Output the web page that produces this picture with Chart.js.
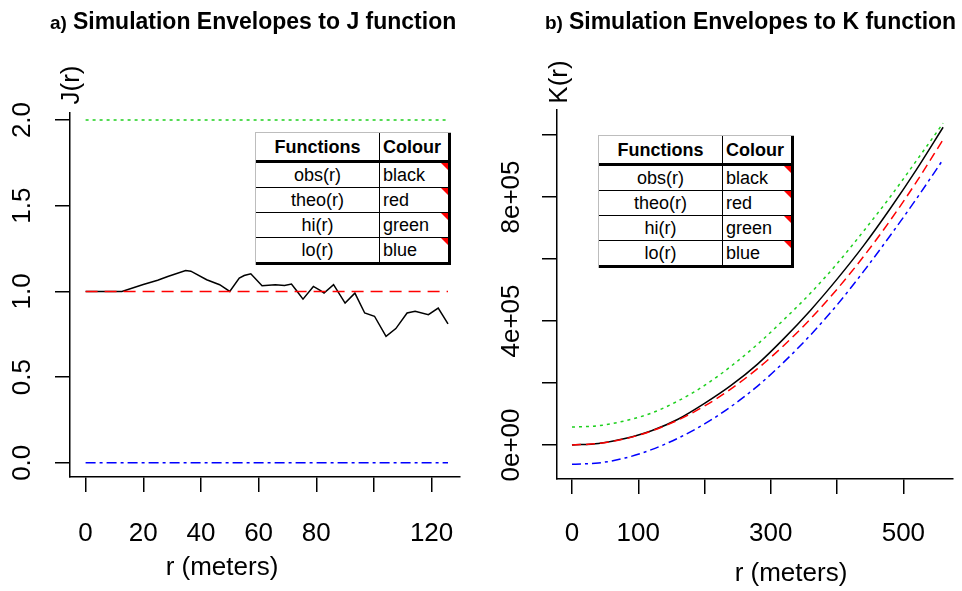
<!DOCTYPE html>
<html>
<head>
<meta charset="utf-8">
<script src="https://cdn.jsdelivr.net/npm/chart.js@4.4.1/dist/chart.umd.min.js"></script>
<style>
  body { margin: 0; background: #fff; }
  #wrap { position: relative; width: 962px; height: 591px; overflow: hidden; font-family: 'Liberation Sans', Arial, sans-serif; color: #000; }
  canvas { position: absolute; top: 0; }
  .ttl { position: absolute; top: 10px; font-size: 23px; line-height: 23px; font-weight: bold; white-space: nowrap; }
  .ttl span { font-size: 19px; margin-right: 6px; }
  table.leg { position: absolute; border-collapse: separate; border-spacing: 0; background: #fff; font-size: 18px;
              border-top: 1px solid #bdbdbd; border-left: 1px solid #bdbdbd; }
  table.leg th, table.leg td { padding: 0; border-right: 1px solid #000; border-bottom: 1px solid #000; line-height: 20px; }
  table.leg th { height: 27px; border-bottom: 3px solid #000; font-weight: bold; }
  table.leg td { height: 24px; }
  table.leg .f { width: 123px; text-align: center; }
  table.leg .c { width: 65px; text-align: left; padding-left: 3px; border-right: 3px solid #000; position: relative; }
  table.leg tr:last-child td { border-bottom: 3px solid #000; }
  table.leg td.c::after { content: ''; position: absolute; top: 0; right: 0; border-left: 7px solid transparent; border-top: 7px solid #f00; }
</style>
</head>
<body>
<div id="wrap">
  <canvas id="jChart" width="480" height="591" style="left:0;width:480px;height:591px"></canvas>
  <canvas id="kChart" width="482" height="591" style="left:480px;width:482px;height:591px"></canvas>
  <div class="ttl" style="left:50px"><span>a)</span>Simulation Envelopes to J function</div>
  <div class="ttl" style="left:545px"><span>b)</span>Simulation Envelopes to K function</div>
</div>
<script>
// legend table
const legendFunctions = ['obs(r)', 'theo(r)', 'hi(r)', 'lo(r)'];
const legendColours = ['black', 'red', 'green', 'blue'];

// a) J function
const jR   = [0, 12.6, 20, 25, 28.5, 34.7, 36.5, 42, 46.5, 50, 53.3, 55, 57.3, 61.2, 65.8, 69, 71.4, 73.2, 75.4, 79, 81.5, 82.7, 86, 90, 93.4, 96.8, 100.2, 104.2, 107.6, 111.5, 114.3, 118.9, 122.3, 125.7];
const jObs = [1, 1, 1.04, 1.065, 1.087, 1.122, 1.118, 1.068, 1.039, 1.0, 1.078, 1.093, 1.103, 1.033, 1.039, 1.035, 1.043, 1.004, 0.955, 1.029, 1.004, 0.99, 1.039, 0.932, 0.99, 0.874, 0.855, 0.738, 0.783, 0.874, 0.884, 0.864, 0.903, 0.81];
const jEnvR = [0, 125.7];
const jTheo = [1, 1];
const jHi   = [2, 2];
const jLo   = [0, 0];
const jXTicks = [0, 20, 40, 60, 80, 100, 120];
const jXLabels = ['0', '20', '40', '60', '80', '', '120'];
const jYTicks = [0, 0.5, 1, 1.5, 2];
const jYLabels = ['0.0', '0.5', '1.0', '1.5', '2.0'];

// b) K function
const kR    = [0, 40, 80, 120, 160, 200, 240, 280, 320, 360, 400, 440, 480, 520, 560];
const kObs  = [0, 5000, 21000, 46000, 83000, 134000, 192000, 261000, 344000, 435000, 535000, 643000, 762000, 889000, 1025000];
const kTheo = [0, 5000, 20100, 45200, 80400, 125700, 181000, 246300, 321700, 407200, 502700, 608200, 723800, 849500, 985200];
const kHi   = [58000, 62000, 78000, 103000, 142000, 192000, 254000, 325000, 405000, 490000, 585000, 690000, 800000, 918000, 1038000];
const kLo   = [-62000, -58000, -42000, -15000, 22000, 68000, 124000, 190000, 268000, 355000, 452000, 560000, 675000, 795000, 921000];
const kXTicks = [0, 100, 200, 300, 400, 500];
const kXLabels = ['0', '100', '', '300', '', '500'];
const kYTicks = [0, 200000, 400000, 600000, 800000, 1000000];
const kYLabels = ['0e+00', '', '4e+05', '', '8e+05', ''];

Chart.defaults.font.family = "'Liberation Sans', Arial, sans-serif";
Chart.defaults.color = '#000';

function pts(xs, ys) {
  return xs.map((x, i) => ({ x: x, y: ys[i] }));
}

// rotated y labels and axis titles, drawn on the chart's own scales
const rDecor = {
  id: 'rDecor',
  afterDraw(chart, args, o) {
    const ctx = chart.ctx;
    const ys = chart.scales.y;
    const area = chart.chartArea;
    ctx.save();
    ctx.fillStyle = '#000';
    ctx.font = "26px 'Liberation Sans', Arial, sans-serif";
    ctx.textAlign = 'center';
    ctx.textBaseline = 'middle';
    o.yTicks.forEach((v, i) => {
      if (!o.yLabels[i]) return;
      ctx.save();
      ctx.translate(o.yLabelX, ys.getPixelForValue(v));
      ctx.rotate(-Math.PI / 2);
      ctx.fillText(o.yLabels[i], 0, 0);
      ctx.restore();
    });
    ctx.save();
    ctx.translate(area.left + o.yTitleDx, o.yTitleY);
    ctx.rotate(-Math.PI / 2);
    ctx.fillText(o.yTitle, 0, 0);
    ctx.restore();
    ctx.fillText(o.xTitle, o.xTitleX, o.xTitleY);
    ctx.restore();
  }
};

function rChart(id, c) {
  const axisGrid = { drawOnChartArea: false, drawTicks: true, tickLength: 15, color: '#000', lineWidth: 1.5 };
  const axisBorder = { display: true, color: '#000', width: 1.5 };
  return new Chart(document.getElementById(id), {
    type: 'line',
    data: { datasets: c.datasets },
    options: {
      responsive: false,
      animation: false,
      layout: { padding: { left: 0, right: c.padRight, top: c.padTop, bottom: 0 } },
      elements: { point: { radius: 0 }, line: { borderWidth: 1.5, fill: false } },
      plugins: { legend: { display: false }, tooltip: { enabled: false }, rDecor: c.decor },
      scales: {
        x: {
          type: 'linear', min: c.xMin, max: c.xMax,
          afterBuildTicks: s => { s.ticks = c.xTicks.map(v => ({ value: v })); },
          afterFit: s => { s.height = c.xHeight; },
          ticks: { font: { size: 26 }, color: '#000', padding: c.xPad, maxRotation: 0, autoSkip: false,
                   callback: (v, i) => c.xLabels[i] },
          grid: axisGrid, border: axisBorder
        },
        y: {
          type: 'linear', min: c.yMin, max: c.yMax,
          afterBuildTicks: s => { s.ticks = c.yTicks.map(v => ({ value: v })); },
          afterFit: s => { s.width = c.yWidth; },
          ticks: { autoSkip: false, callback: () => '' },
          grid: axisGrid, border: axisBorder
        }
      }
    },
    plugins: [rDecor]
  });
}

rChart('jChart', {
  datasets: [
    { data: pts(jEnvR, jTheo), borderColor: '#ff0000', borderDash: [12, 7] },
    { data: pts(jR, jObs), borderColor: '#000000' },
    { data: pts(jEnvR, jHi), borderColor: '#1ed01e', borderDash: [3, 4] },
    { data: pts(jEnvR, jLo), borderColor: '#0000ff', borderDash: [10, 4, 3, 4] }
  ],
  xMin: -5.41, xMax: 129.8, yMin: -0.083, yMax: 2.041,
  xTicks: jXTicks, xLabels: jXLabels, yTicks: jYTicks,
  padRight: 10, padTop: 113, xHeight: 114, yWidth: 70, xPad: 26,
  decor: { yTicks: jYTicks, yLabels: jYLabels, yLabelX: 23, yTitle: 'J(r)', yTitleDx: 2, yTitleY: 85,
           xTitle: 'r (meters)', xTitleX: 222, xTitleY: 568 }
});

rChart('kChart', {
  datasets: [
    { data: pts(kR, kTheo), borderColor: '#ff0000', borderDash: [9, 5], cubicInterpolationMode: 'monotone' },
    { data: pts(kR, kObs), borderColor: '#000000', cubicInterpolationMode: 'monotone' },
    { data: pts(kR, kHi), borderColor: '#1ed01e', borderDash: [3, 4], cubicInterpolationMode: 'monotone' },
    { data: pts(kR, kLo), borderColor: '#0000ff', borderDash: [9, 4, 3, 4], cubicInterpolationMode: 'monotone' }
  ],
  xMin: -22.6, xMax: 574.9, yMin: -109700, yMax: 1080600,
  xTicks: kXTicks, xLabels: kXLabels, yTicks: kYTicks,
  padRight: 9, padTop: 110, xHeight: 112, yWidth: 77, xPad: 24,
  decor: { yTicks: kYTicks, yLabels: kYLabels, yLabelX: 32, yTitle: 'K(r)', yTitleDx: 3, yTitleY: 82,
           xTitle: 'r (meters)', xTitleX: 311, xTitleY: 574 }
});

function buildLegend(left, top) {
  const t = document.createElement('table');
  t.className = 'leg';
  t.style.left = left + 'px';
  t.style.top = top + 'px';
  let html = '<tr><th class="f">Functions</th><th class="c">Colour</th></tr>';
  legendFunctions.forEach((f, i) => {
    html += '<tr><td class="f">' + f + '</td><td class="c">' + legendColours[i] + '</td></tr>';
  });
  t.innerHTML = html;
  document.getElementById('wrap').appendChild(t);
}
buildLegend(255, 132);
buildLegend(598, 135);
</script>
</body>
</html>
